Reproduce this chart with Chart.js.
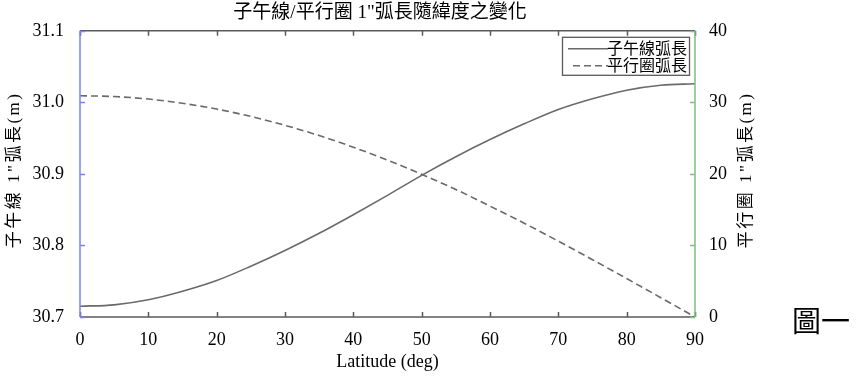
<!DOCTYPE html>
<html>
<head>
<meta charset="utf-8">
<script src="https://cdn.jsdelivr.net/npm/chart.js@4"></script>
<style>
  html, body { margin: 0; padding: 0; background: #fff; }
  #wrap { width: 859px; height: 381px; position: relative; }
</style>
</head>
<body>
<div id="wrap"><canvas id="chart" width="859" height="381"></canvas></div>
<script>
// values
const latitude = [0, 5, 10, 15, 20, 25, 30, 35, 40, 45, 50, 55, 60, 65, 70, 75, 80, 85, 90];
const meridianArc = [30.715, 30.717, 30.724, 30.736, 30.751, 30.771, 30.793, 30.817, 30.843, 30.870,
                     30.898, 30.924, 30.948, 30.970, 30.990, 31.005, 31.017, 31.024, 31.026];
const parallelArc = [30.92, 30.81, 30.46, 29.87, 29.06, 28.03, 26.79, 25.36, 23.73, 21.92,
                     19.94, 17.82, 15.50, 13.11, 10.60, 8.01, 5.37, 2.70, 0];
const seriesNames = ['子午線弧長', '平行圈弧長'];
const xTicks = [0, 10, 20, 30, 40, 50, 60, 70, 80, 90];
const leftTicks = [30.7, 30.8, 30.9, 31.0, 31.1];
const rightTicks = [0, 10, 20, 30, 40];
const leftTitle = '子午線 1"弧長(m)';
const rightTitle = '平行圈 1"弧長(m)';

const serif = "'Liberation Serif', 'Noto Sans CJK TC', serif";
const lineGray = '#6a6a6a';

function vText(ctx, text, x, y) {
  ctx.save();
  ctx.translate(x, y);
  ctx.rotate(-Math.PI / 2);
  ctx.font = '17px ' + serif;
  ctx.letterSpacing = '2.5px';
  ctx.textAlign = 'center';
  ctx.textBaseline = 'middle';
  ctx.fillStyle = '#000';
  ctx.fillText(text, 0, 0);
  ctx.restore();
}

const frame = {
  id: 'frame',
  afterDraw(chart) {
    const ctx = chart.ctx;
    const a = chart.chartArea;
    const sx = chart.scales.x, sl = chart.scales.y, sr = chart.scales.y1;
    const t = 5;
    ctx.save();
    ctx.lineWidth = 1.5;
    // top and bottom
    ctx.strokeStyle = '#5a5a5a';
    ctx.beginPath();
    ctx.moveTo(a.left, a.top); ctx.lineTo(a.right, a.top);
    ctx.moveTo(a.left, a.bottom); ctx.lineTo(a.right, a.bottom);
    xTicks.forEach(v => {
      const px = Math.round(sx.getPixelForValue(v)) + 0.5;
      ctx.moveTo(px, a.top); ctx.lineTo(px, a.top + t);
      ctx.moveTo(px, a.bottom); ctx.lineTo(px, a.bottom - t);
    });
    ctx.stroke();
    // left (blue)
    ctx.strokeStyle = '#7f7fff';
    ctx.beginPath();
    ctx.moveTo(a.left, a.top); ctx.lineTo(a.left, a.bottom);
    leftTicks.forEach(v => {
      const py = Math.round(sl.getPixelForValue(v)) + 0.5;
      ctx.moveTo(a.left, py); ctx.lineTo(a.left + t, py);
    });
    ctx.stroke();
    // right (green)
    ctx.strokeStyle = '#7fbf7f';
    ctx.beginPath();
    ctx.moveTo(a.right, a.top); ctx.lineTo(a.right, a.bottom);
    rightTicks.forEach(v => {
      const py = Math.round(sr.getPixelForValue(v)) + 0.5;
      ctx.moveTo(a.right, py); ctx.lineTo(a.right - t, py);
    });
    ctx.stroke();

    // axis titles, both read bottom to top
    const midY = (a.top + a.bottom) / 2;
    vText(ctx, leftTitle, 15, midY - 4);
    vText(ctx, rightTitle, 747, midY - 4);

    // legend box
    const bx = a.right - 133, by = a.top + 6, bw = 127, bh = 38;
    ctx.fillStyle = '#fff';
    ctx.fillRect(bx, by, bw, bh);
    ctx.strokeStyle = '#5a5a5a';
    ctx.lineWidth = 1.3;
    ctx.strokeRect(bx + 0.5, by + 0.5, bw, bh);
    ctx.font = '16px ' + serif;
    ctx.textAlign = 'right';
    ctx.textBaseline = 'middle';
    chart.data.datasets.forEach((ds, i) => {
      const ly = by + 12 + i * 17;
      ctx.strokeStyle = ds.borderColor;
      ctx.lineWidth = 1.5;
      ctx.setLineDash(ds.borderDash || []);
      ctx.beginPath();
      ctx.moveTo(bx + (ds.borderDash ? 11 : 6), ly); ctx.lineTo(bx + 46, ly);
      ctx.stroke();
      ctx.setLineDash([]);
      ctx.fillStyle = '#000';
      ctx.fillText(ds.label, bx + bw - 2, ly + 1);
    });

    // figure label
    ctx.font = '29px ' + serif;
    ctx.textAlign = 'center';
    ctx.fillStyle = '#000';
    ctx.fillText('圖一', 821, 324);
    ctx.restore();
  }
};

new Chart(document.getElementById('chart'), {
  type: 'line',
  data: {
    datasets: [{
      label: seriesNames[0],
      data: latitude.map((x, i) => ({ x: x, y: meridianArc[i] })),
      yAxisID: 'y',
      borderColor: lineGray,
      borderWidth: 1.6,
      pointRadius: 0,
      cubicInterpolationMode: 'monotone'
    }, {
      label: seriesNames[1],
      data: latitude.map((x, i) => ({ x: x, y: parallelArc[i] })),
      yAxisID: 'y1',
      borderColor: lineGray,
      borderWidth: 1.6,
      borderDash: [7, 4],
      pointRadius: 0,
      cubicInterpolationMode: 'monotone'
    }]
  },
  options: {
    responsive: false,
    animation: false,
    layout: { padding: { left: 0, right: 99, top: 0, bottom: 0 } },
    plugins: {
      legend: { display: false },
      tooltip: { enabled: false },
      title: {
        display: true,
        text: '子午線/平行圈 1"弧長隨緯度之變化',
        color: '#000',
        font: { family: serif, size: 19, weight: 'normal' },
        padding: { top: 2, bottom: 6 }
      }
    },
    scales: {
      x: {
        type: 'linear',
        min: 0, max: 90,
        afterFit(s) { s.height = 64; },
        grid: { display: false },
        border: { display: false },
        ticks: {
          stepSize: 10, padding: 4, color: '#000', maxRotation: 0,
          font: { family: serif, size: 18 }
        },
        title: {
          display: true, text: 'Latitude (deg)', color: '#000',
          font: { family: serif, size: 18 },
          padding: { top: 0, bottom: 8 }
        }
      },
      y: {
        position: 'left',
        min: 30.7, max: 31.1,
        afterFit(s) { s.width = 80; },
        grid: { display: false },
        border: { display: false },
        ticks: {
          stepSize: 0.1, padding: 8, color: '#000',
          font: { family: serif, size: 18 },
          callback: v => Number(v).toFixed(1)
        },
        title: { display: false }
      },
      y1: {
        position: 'right',
        min: 0, max: 40,
        afterFit(s) { s.width = 65; },
        grid: { display: false },
        border: { display: false },
        ticks: {
          stepSize: 10, padding: 6, color: '#000',
          font: { family: serif, size: 18 }
        },
        title: { display: false }
      }
    }
  },
  plugins: [frame]
});
</script>
</body>
</html>
